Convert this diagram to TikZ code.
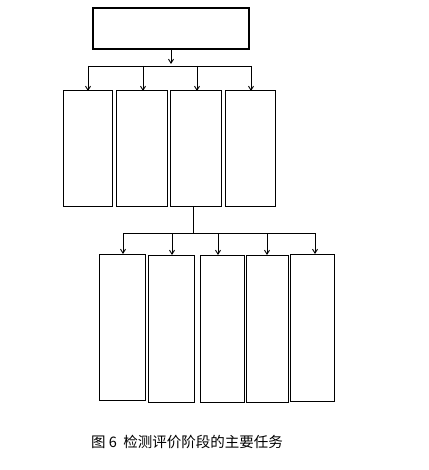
\documentclass[tikz,border=0pt]{standalone}
\usepackage{fontspec}
\newfontfamily\cjk{Noto Sans CJK SC}
\usetikzlibrary{arrows.meta}
\begin{document}
\begin{tikzpicture}[x=1pt,y=-1pt,
  box/.style={draw,line width=1pt,inner sep=0pt,outer sep=0pt},
  conn/.style={line width=0.9pt},
  arr/.style={conn,-{Straight Barb[length=4pt,width=5pt]}}]
\useasboundingbox (0,0) rectangle (428,470);
\fill[white] (0,0) rectangle (428,470);
% top box
\node[box,line width=1.8pt,minimum width=156pt,minimum height=41pt] (top) at (171,28.5) {};
% second row
\node[box,minimum width=49pt,minimum height=115pt] (a1) at (87.5,148.5) {};
\node[box,minimum width=51pt,minimum height=115pt] (a2) at (141.5,148.5) {};
\node[box,minimum width=51pt,minimum height=115pt] (a3) at (195.5,148.5) {};
\node[box,minimum width=50pt,minimum height=115pt] (a4) at (250,148.5) {};
\coordinate (bus1) at (171,66);
\draw[arr] (top.south) -- ([yshift=2pt]bus1);
\draw[conn] (bus1 -| 88,0) -- (bus1 -| 251,0);
\foreach \x/\n in {88/a1,143/a2,197/a3,251/a4} \draw[arr] (\x,66) -- (\x,0 |- \n.north);
% bottom row
\node[box,minimum width=46pt,minimum height=146pt] (b1) at (122,327) {};
\node[box,minimum width=46pt,minimum height=147pt] (b2) at (171,328.5) {};
\node[box,minimum width=44pt,minimum height=147pt] (b3) at (222,328.5) {};
\node[box,minimum width=42pt,minimum height=147pt] (b4) at (267,328.5) {};
\node[box,minimum width=44pt,minimum height=147pt] (b5) at (312,327.5) {};
\coordinate (bus2) at (193,233);
\draw[conn] (193,0 |- a3.south) -- (bus2);
\draw[conn] (bus2 -| 123,0) -- (bus2 -| 315,0);
\foreach \x/\n in {123/b1,172/b2,218/b3,267/b4,315/b5} \draw[arr] (\x,233) -- (\x,0 |- \n.north);
\node[anchor=west,inner sep=0pt,font=\cjk\fontsize{14.5pt}{16pt}\selectfont] (cap) at (91,442) {图 6\ \ 检测评价阶段的主要任务};
\end{tikzpicture}
\end{document}
